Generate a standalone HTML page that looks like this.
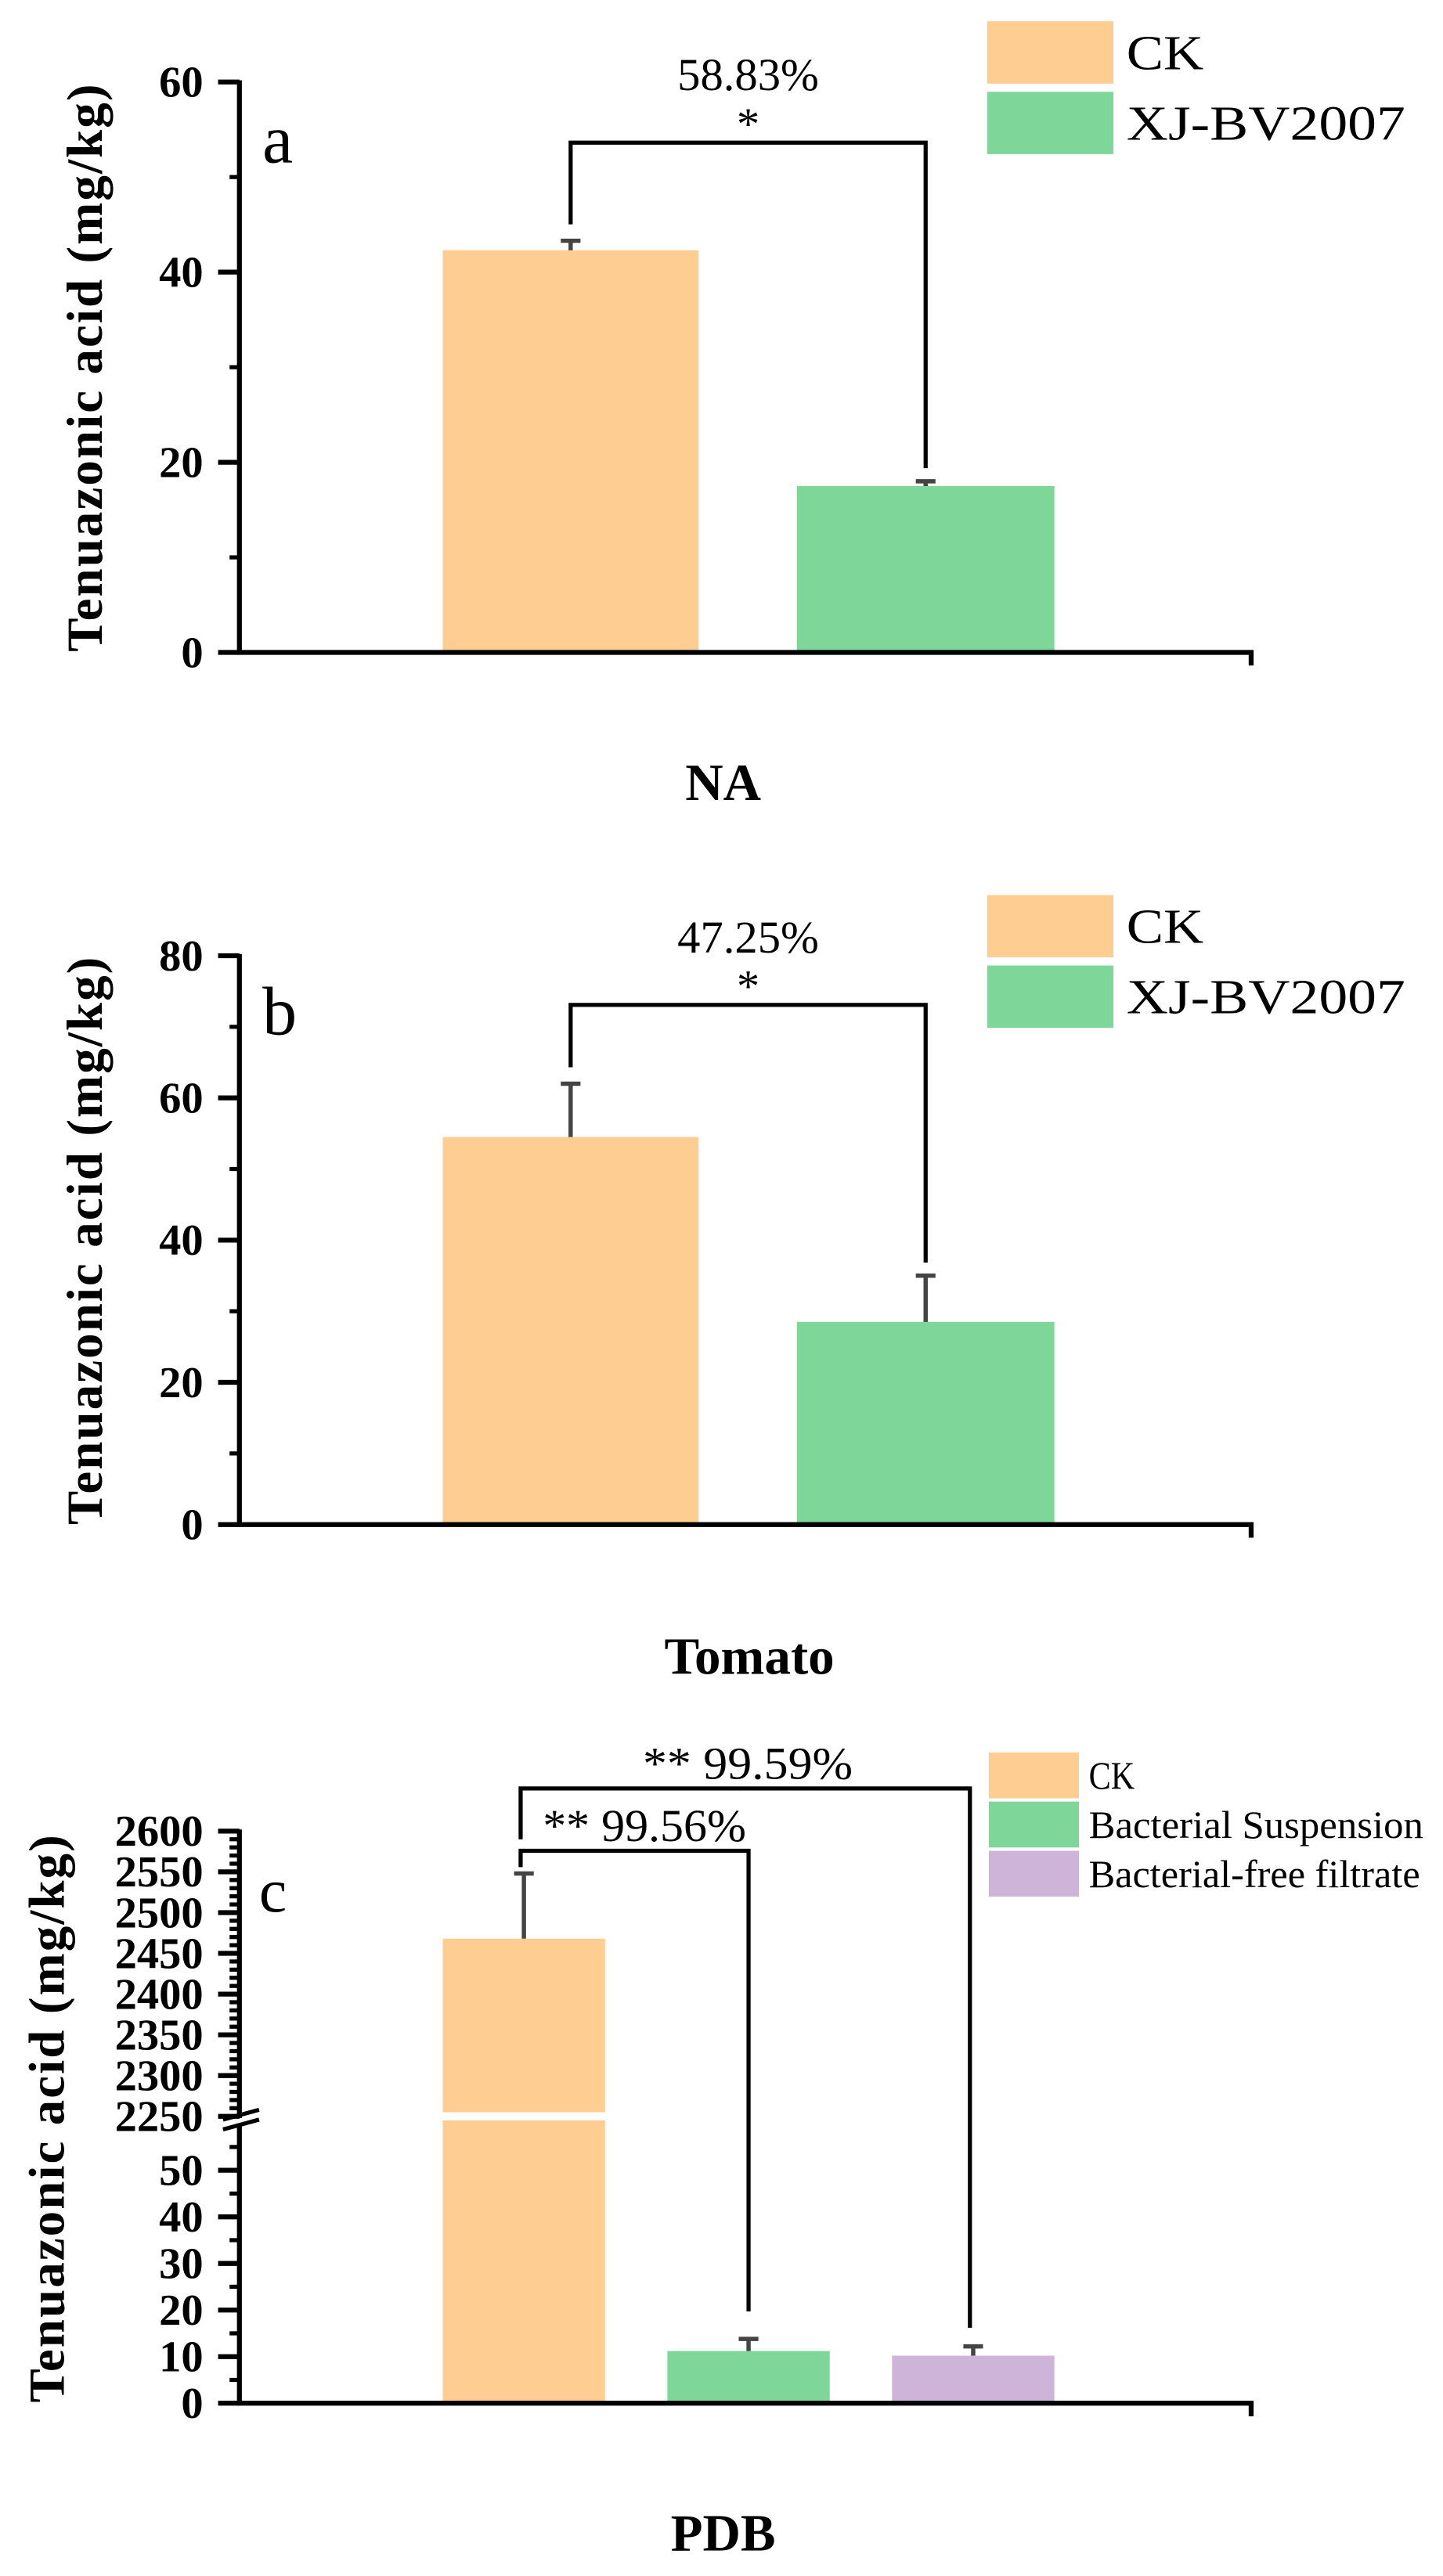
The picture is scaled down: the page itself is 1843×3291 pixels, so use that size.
<!DOCTYPE html>
<html><head><meta charset="utf-8"><style>
html,body{margin:0;padding:0;background:#fff;}
svg{display:block;}
text{font-family:"Liberation Serif",serif;fill:#000;}
</style></head><body>
<svg id="fig" width="1843" height="3291" viewBox="0 0 880 1571.4" preserveAspectRatio="none" xmlns="http://www.w3.org/2000/svg"></svg>
<script>
// Panel a data
const aCategories = ["CK","XJ-BV2007"];
const aValues = [42.3, 17.5];
const aErrors = [1.0, 0.5];
const aTicks = [0,20,40,60];
// Panel b data
const bCategories = ["CK","XJ-BV2007"];
const bValues = [54.5, 28.5];
const bErrors = [7.5, 6.5];
const bTicks = [0,20,40,60,80];
// Panel c data
const cCategories = ["CK","Bacterial Suspension","Bacterial-free filtrate"];
const cValues = [2468, 11.2, 10.2];
const cErrors = [80, 2.6, 2.0];
const cLowTicks = [0,10,20,30,40,50];
const cHighTicks = [2250,2300,2350,2400,2450,2500,2550,2600];

const NS="http://www.w3.org/2000/svg";
const svg=document.getElementById('fig');
function mk(tag,attrs,parent,txt){const e=document.createElementNS(NS,tag);for(const k in attrs)e.setAttribute(k,attrs[k]);if(txt!==undefined)e.textContent=txt;(parent||svg).appendChild(e);return e;}
const COL=["#FDCD92","#7ED699","#CDB4D8"];
const AX=146, AXR=763;

function yAxis(g,ticks,y,minorStep){
  const lo=ticks[0],hi=ticks[ticks.length-1];
  for(let v=lo;v<=hi+1e-9;v+=minorStep){
    const t=mk('line',{x1:AX-6,x2:AX,y1:y(v),y2:y(v),stroke:'#000','stroke-width':2.5},g);
    
    
  }
  ticks.forEach(v=>{
    const t=mk('line',{x1:AX-13,x2:AX,y1:y(v),y2:y(v),stroke:'#000','stroke-width':3},g);
    
    
    const l=mk('text',{x:124,y:y(v)+9,'text-anchor':'end','font-size':27,'font-weight':'bold'},g,String(v));
    
    
  });
}
function errbar(g,cx,yv,ye){
  const e=mk('path',{d:`M${cx},${yv} V${ye} M${cx-6},${ye} H${cx+6}`,stroke:'#444','stroke-width':2.6,fill:'none'},g);
  
  
}
function ytitle(g,x,y){
  const t=mk('text',{x:0,y:0,transform:`translate(${x},${y}) rotate(-90)`,'text-anchor':'middle','font-size':31,'font-weight':'bold','letter-spacing':'1'},g,'Tenuazonic acid (mg/kg)');
  
  
}
function legend(g,labels,tops,h,x0,x1,fs,tx,lens){
  labels.forEach((lab,i)=>{
    const r=mk('rect',{x:x0,y:tops[i],width:x1-x0,height:h,fill:COL[i]},g);
    
    
    const t=mk('text',{x:tx,y:tops[i]+h/2+fs*0.34,'font-size':fs,textLength:lens[i],lengthAdjust:'spacingAndGlyphs'},g,lab);
    
    
  });
}
function simplePanel(name,cats,vals,errs,ticks,y0,ymax,ytop,letter,letterY,pct,bracketY,xlabel,xlabelX,xlabelY,legTop){
  const g=mk('g',{});
  
  
  const y=v=>y0-(v/ymax)*(y0-ytop);
  const xs=[[270,426],[486,643]];
  cats.forEach((c,i)=>{
    const b=mk('rect',{x:xs[i][0],y:y(vals[i]),width:xs[i][1]-xs[i][0],height:y0-y(vals[i]),fill:COL[i]},g);
    
    
    errbar(g,(xs[i][0]+xs[i][1])/2,y(vals[i]),y(vals[i]+errs[i]));
  });
  yAxis(g,ticks,y,ticks[1]/2);
  const ax=mk('path',{d:`M${AX},${ytop-1} V${y0} H${AXR} V${y0+8}`,stroke:'#000','stroke-width':3,fill:'none'},g);
  
  
  const c0=(xs[0][0]+xs[0][1])/2,c1=(xs[1][0]+xs[1][1])/2;
  const br=mk('path',{d:`M${c0},${y(vals[0]+errs[0])-10} V${bracketY} H${c1} V${y(vals[1]+errs[1])-8}`,stroke:'#000','stroke-width':2.5,fill:'none'},g);
  
  
  const p=mk('text',{x:(c0+c1)/2,y:bracketY-32,'text-anchor':'middle','font-size':28},g,pct);
  
  
  const s=mk('text',{x:(c0+c1)/2,y:bracketY-2,'text-anchor':'middle','font-size':28},g,'*');
  
  
  const L=mk('text',{x:160,y:letterY,'font-size':42},g,letter);
  
  
  const X=mk('text',{x:xlabelX,y:xlabelY,'text-anchor':'middle','font-size':32,'font-weight':'bold'},g,xlabel);
  
  
  ytitle(g,62,(y0+ytop)/2);
  legend(g,cats,[legTop,legTop+43],38,602,679,30,687,[47,170]);
}
simplePanel('panel-a',aCategories,aValues,aErrors,aTicks,398,60,50,'a',99,'58.83%',87,'NA',441,488,13);
simplePanel('panel-b',bCategories,bValues,bErrors,bTicks,930,80,583,'b',631,'47.25%',613,'Tomato',457,1021,546);

// Panel c (broken axis)
(function(){
  const g=mk('g',{});
  
  
  const y0=1466, lowPx=2.842, brkLow=1297, brkHigh=1291, hiPx=(1291-1117)/350;
  const y=v=> v<=1000 ? y0-v*lowPx : brkHigh-(v-2250)*hiPx;
  const xs=[[270,369],[407,506],[544,643]];
  cCategories.forEach((c,i)=>{
    const b=mk('rect',{x:xs[i][0],y:y(cValues[i]),width:xs[i][1]-xs[i][0],height:y0-y(cValues[i]),fill:COL[i]},g);
    
    
    errbar(g,(xs[i][0]+xs[i][1])/2,y(cValues[i]),y(cValues[i]+cErrors[i]));
  });
  const gap=mk('rect',{x:268,y:1288.5,width:104,height:5,fill:'#fff'},g);
  
  
  yAxis(g,cLowTicks,y,5);
  const t55=mk('line',{x1:AX-6,x2:AX,y1:y(55),y2:y(55),stroke:'#000','stroke-width':2.5},g);
  
  
  yAxis(g,cHighTicks,y,10);
  const ax=mk('path',{d:`M${AX},${1116} V${brkHigh+1} M${AX},${brkLow} V${y0} H${AXR} V${y0+8}`,stroke:'#000','stroke-width':3,fill:'none'},g);
  
  
  const bk=mk('path',{d:`M${AX-10},${1293} L${AX+12},${1287} M${AX-10},${1299} L${AX+12},${1293}`,stroke:'#000','stroke-width':2.5},g);
  
  
  const c0=319.5,c1=456.5,c2=593.5;
  const b1=mk('path',{d:`M${c0-2},${1139} V${1129} H${c1} V${1410}`,stroke:'#000','stroke-width':2.5,fill:'none'},g);
  
  
  const b2=mk('path',{d:`M${c0-2},${1122} V${1091} H${c2-2} V${1420}`,stroke:'#000','stroke-width':2.5,fill:'none'},g);
  
  
  const t1=mk('text',{x:331,y:1123,'font-size':28,textLength:124,lengthAdjust:'spacingAndGlyphs'},g,'** 99.56%');
  
  
  const t2=mk('text',{x:392,y:1085,'font-size':28,textLength:128,lengthAdjust:'spacingAndGlyphs'},g,'** 99.59%');
  
  
  const L=mk('text',{x:158,y:1166,'font-size':38},g,'c');
  
  
  const X=mk('text',{x:441,y:1556,'text-anchor':'middle','font-size':32,'font-weight':'bold'},g,'PDB');
  
  
  ytitle(g,39,1292);
  legend(g,cCategories,[1069,1099,1129],28,603,658,24,664,[28,204,202]);
})();
</script>
</body></html>
